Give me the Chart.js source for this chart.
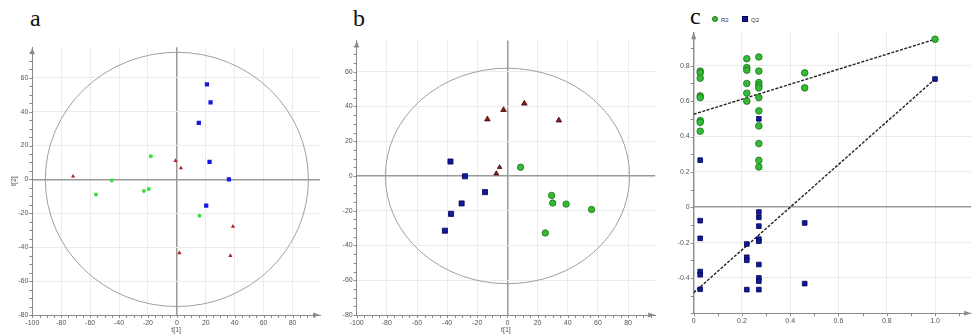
<!DOCTYPE html>
<html>
<head>
<meta charset="utf-8">
<script src="https://cdn.jsdelivr.net/npm/chart.js@4.4.0/dist/chart.umd.min.js"></script>
<style>
  body { margin: 0; background: #fff; width: 976px; height: 335px; overflow: hidden; position: relative; font-family: "Liberation Sans", Arial, sans-serif; }
  canvas { position: absolute; top: 0; }
  .tag { position: absolute; font-family: "Liberation Serif", "Times New Roman", serif; font-size: 24px; line-height: 24px; color: #111; }
  .lg { position: absolute; font-size: 6px; line-height: 6px; color: #333; }
  .dot { position: absolute; width: 6px; height: 6px; border-radius: 50%; background: #33bb33; border: 1px solid #1f7a1f; box-sizing: border-box; }
  .sq { position: absolute; width: 6px; height: 6px; background: #0d1a99; border: 1px solid #000055; box-sizing: border-box; }
</style>
</head>
<body>
<div class="tag" style="left:30px;top:6px">a</div>
<div class="tag" style="left:353px;top:6px">b</div>
<div class="tag" style="left:690px;top:4px">c</div>
<span class="dot" style="left:712px;top:16px"></span><span class="lg" style="left:721px;top:16.5px">R2</span>
<span class="sq" style="left:742px;top:16px"></span><span class="lg" style="left:751px;top:16.5px">Q2</span>

<canvas id="chartA" width="324" height="335" style="left:0px"></canvas>
<canvas id="chartB" width="336" height="335" style="left:324px"></canvas>
<canvas id="chartC" width="316" height="335" style="left:660px"></canvas>

<script>
// ---- panel a : score plot ----
const A_BLUE_X = [20.8, 23.3, 15.2, 22.6, 36.0, 20.3];
const A_BLUE_Y = [56.0, 45.4, 33.3, 10.3, 0.0, -15.4];
const A_GREEN_X = [-18.0, -45.0, -56.0, -22.8, -19.4, 15.7];
const A_GREEN_Y = [13.6, -0.6, -8.9, -6.9, -5.7, -21.5];
const A_RED_X = [-71.8, -0.9, 2.8, 38.8, 37.0, 1.8];
const A_RED_Y = [1.8, 11.0, 6.7, -27.8, -45.0, -43.4];

// ---- panel b : score plot ----
const B_BLUE_X = [-37.8, -28.2, -14.9, -30.4, -37.4, -41.5];
const B_BLUE_Y = [8.3, -0.2, -9.3, -15.8, -21.8, -31.5];
const B_RED_X = [-13.3, -2.6, 11.2, 34.1, -5.2, -7.4];
const B_RED_Y = [32.6, 38.0, 41.7, 32.0, 5.0, 1.4];
const B_GREEN_X = [8.7, 29.3, 30.0, 38.9, 55.8, 25.1];
const B_GREEN_Y = [5.0, -11.2, -15.6, -16.2, -19.3, -32.8];

// ---- panel c : permutation test ----
const R2_X = [0.027, 0.027, 0.027, 0.027, 0.027, 0.027, 0.027, 0.027,
              0.22, 0.22, 0.22, 0.22, 0.22, 0.22,
              0.27, 0.27, 0.27, 0.27, 0.27, 0.27, 0.27, 0.27, 0.27, 0.27, 0.27,
              0.46, 0.46, 1];
const R2_Y = [0.77, 0.76, 0.73, 0.63, 0.62, 0.49, 0.48, 0.43,
              0.84, 0.79, 0.775, 0.70, 0.645, 0.60,
              0.85, 0.77, 0.705, 0.69, 0.675, 0.62, 0.545, 0.46, 0.36, 0.265, 0.228,
              0.76, 0.675, 0.95];
const Q2_X = [0.027, 0.027, 0.027, 0.027, 0.027, 0.027,
              0.22, 0.22, 0.22, 0.22,
              0.27, 0.27, 0.27, 0.27, 0.27, 0.27, 0.27, 0.27, 0.27, 0.27,
              0.46, 0.46, 1];
const Q2_Y = [0.266, -0.076, -0.176, -0.364, -0.382, -0.464,
              -0.208, -0.283, -0.30, -0.466,
              0.50, -0.027, -0.057, -0.107, -0.18, -0.192, -0.324, -0.40, -0.418, -0.466,
              -0.089, -0.432, 0.725];
const R2_LINE_X = [0, 1];
const R2_LINE_Y = [0.526, 0.95];
const Q2_LINE_X = [0, 1];
const Q2_LINE_Y = [-0.483, 0.725];

// Hotelling T2 ellipse half axes (t1, t2)
const A_ELLIPSE = [91, 75];
const B_ELLIPSE = [81, 62];

const pts = (xs, ys) => xs.map((x, i) => ({ x: x, y: ys[i] }));

// ellipse, minor ticks and axis arrows
const decorPlugin = {
  id: 'decor',
  beforeDatasetsDraw(chart, args, opts) {
    if (!opts.ellipse) return;
    const { ctx, scales: { x, y } } = chart;
    const cx = x.getPixelForValue(0), cy = y.getPixelForValue(0);
    const rx = x.getPixelForValue(opts.ellipse[0]) - cx;
    const ry = cy - y.getPixelForValue(opts.ellipse[1]);
    ctx.save();
    ctx.strokeStyle = '#a0a0a0';
    ctx.lineWidth = 1;
    ctx.beginPath();
    ctx.ellipse(cx, cy, rx, ry, 0, 0, Math.PI * 2);
    ctx.stroke();
    ctx.restore();
  },
  afterDraw(chart, args, opts) {
    const { ctx, chartArea: a, scales: { x, y } } = chart;
    ctx.save();
    ctx.strokeStyle = '#8a8a8a';
    ctx.lineWidth = 1;
    ctx.beginPath();
    const nx = Math.floor((x.max - x.min) / opts.minorX + 1e-6);
    for (let i = 0; i <= nx; i++) {
      const px = Math.round(x.getPixelForValue(x.min + i * opts.minorX)) + 0.5;
      ctx.moveTo(px, a.bottom);
      ctx.lineTo(px, a.bottom + 3);
    }
    const ny = Math.floor((y.max - y.min) / opts.minorY + 1e-6);
    for (let i = 0; i <= ny; i++) {
      const py = Math.round(y.getPixelForValue(y.min + i * opts.minorY)) + 0.5;
      ctx.moveTo(a.left - 3, py);
      ctx.lineTo(a.left, py);
    }
    ctx.stroke();
    ctx.fillStyle = '#8a8a8a';
    ctx.beginPath();
    ctx.moveTo(a.left, a.top);
    ctx.lineTo(a.left - 2.5, a.top + 7);
    ctx.lineTo(a.left + 2.5, a.top + 7);
    ctx.fill();
    ctx.beginPath();
    ctx.moveTo(a.right, a.bottom);
    ctx.lineTo(a.right - 7, a.bottom - 2.5);
    ctx.lineTo(a.right - 7, a.bottom + 2.5);
    ctx.fill();
    ctx.restore();
  }
};

const TICK_FONT = { family: 'Liberation Sans', size: 7 };

function axis(min, max, step, size, title, titlePad) {
  return {
    type: 'linear', min: min, max: max,
    afterFit: (s) => { if (s.isHorizontal()) s.height = size; else s.width = size; },
    ticks: { stepSize: step, includeBounds: false, font: TICK_FONT, color: '#555', padding: 4 },
    grid: {
      drawTicks: false,
      color: (c) => (c.tick && Math.abs(c.tick.value) < 1e-9 ? '#9a9a9a' : '#ebebeb'),
      lineWidth: (c) => (c.tick && Math.abs(c.tick.value) < 1e-9 ? 1.5 : 1)
    },
    border: { display: true, color: '#8a8a8a', width: 1 },
    title: { display: !!title, text: title, font: TICK_FONT, color: '#555', padding: titlePad || 0 }
  };
}

function makeChart(id, datasets, scales, padding, decor) {
  new Chart(document.getElementById(id), {
    type: 'scatter',
    data: { datasets: datasets },
    options: {
      responsive: false,
      animation: false,
      layout: { padding: padding },
      plugins: { legend: { display: false }, tooltip: { enabled: false }, decor: decor },
      scales: scales
    },
    plugins: [decorPlugin]
  });
}

// panel a
makeChart('chartA', [
  { data: pts(A_BLUE_X, A_BLUE_Y), pointStyle: 'rect', pointRadius: 3, backgroundColor: '#1818e0', borderWidth: 0 },
  { data: pts(A_GREEN_X, A_GREEN_Y), pointStyle: 'circle', pointRadius: 2, backgroundColor: '#3ae03a', borderWidth: 0 },
  { data: pts(A_RED_X, A_RED_Y), pointStyle: 'triangle', pointRadius: 2.4, backgroundColor: '#b01c1c', borderWidth: 0 }
], {
  x: axis(-100, 99, 20, 20, 't[1]', { top: 0, bottom: 1 }),
  y: axis(-80, 78, 20, 32.3, 't[2]', { top: 10, bottom: 0 })
}, { top: 47.2, right: 3.7 }, { ellipse: A_ELLIPSE, minorX: 5, minorY: 5 });

// panel b
makeChart('chartB', [
  { data: pts(B_BLUE_X, B_BLUE_Y), pointStyle: 'rect', pointRadius: 3.6, backgroundColor: '#0f1a9e', borderColor: '#000050', borderWidth: 0.8 },
  { data: pts(B_RED_X, B_RED_Y), pointStyle: 'triangle', pointRadius: [3.2, 3.2, 3.2, 3.2, 2.6, 2.8], backgroundColor: '#8e1c1c', borderColor: '#400808', borderWidth: 0.8 },
  { data: pts(B_GREEN_X, B_GREEN_Y), pointStyle: 'circle', pointRadius: 3.2, backgroundColor: '#33bb33', borderColor: '#1d6e1d', borderWidth: 0.8 }
], {
  x: axis(-100, 98, 20, 20, 't[1]', { top: 0, bottom: 1 }),
  y: axis(-80, 78, 20, 32.7)
}, { top: 40.4, right: 1.6 }, { ellipse: B_ELLIPSE, minorX: 5, minorY: 5 });

// panel c
makeChart('chartC', [
  { data: pts(R2_X, R2_Y), order: 1, pointStyle: 'circle', pointRadius: 3.3, backgroundColor: '#33bb33', borderColor: '#1d6e1d', borderWidth: 0.8 },
  { data: pts(Q2_X, Q2_Y), order: 1, pointStyle: 'rect', pointRadius: 3.3, backgroundColor: '#0f1a9e', borderColor: '#000050', borderWidth: 0.8 },
  { type: 'line', data: pts(R2_LINE_X, R2_LINE_Y), order: 2, showLine: true, pointRadius: 0, borderColor: '#222', borderWidth: 1.4, borderDash: [3, 1.5] },
  { type: 'line', data: pts(Q2_LINE_X, Q2_LINE_Y), order: 2, showLine: true, pointRadius: 0, borderColor: '#222', borderWidth: 1.4, borderDash: [3, 1.5] }
], {
  x: axis(0, 1.15, 0.2, 21.7),
  y: axis(-0.6, 0.99, 0.2, 33.7)
}, { top: 32.2, right: 1.4 }, { minorX: 0.1, minorY: 0.1 });
</script>
</body>
</html>
